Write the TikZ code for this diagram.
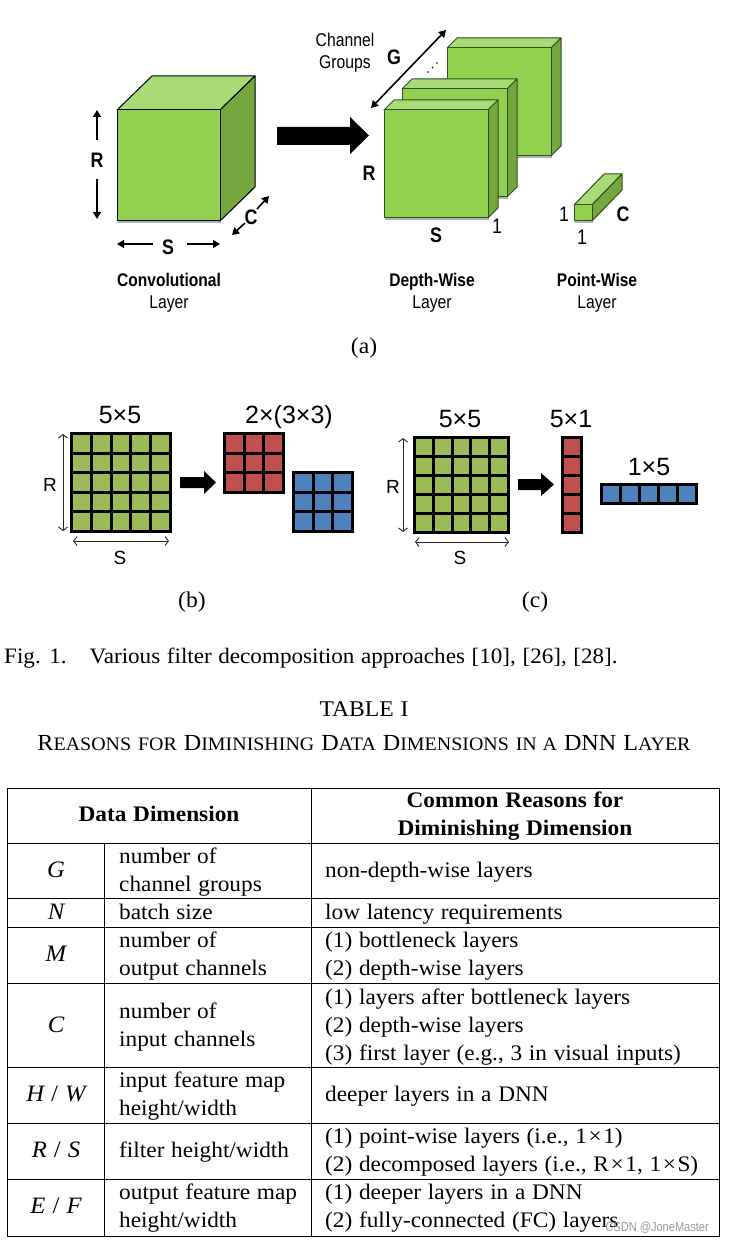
\documentclass[tikz,border=0pt]{standalone}
\usepackage{fontspec}
\setmainfont[FakeStretch=1.05,WordSpace=1.15]{Liberation Serif}
\newfontfamily\condsans[FakeStretch=0.85]{Liberation Sans}
\newfontfamily\plainsans{Liberation Sans}
\usetikzlibrary{arrows.meta}
\definecolor{cfront}{HTML}{92D050}
\definecolor{ctop}{HTML}{A8DB75}
\definecolor{cside}{HTML}{76A63F}
\definecolor{cdark}{HTML}{2F4F1F}
\definecolor{cgreen}{HTML}{9BBB59}
\definecolor{cred}{HTML}{C0504D}
\definecolor{cblue}{HTML}{4F81BD}
\newcommand\fsz[1]{\fontsize{#1}{#1}\selectfont}
\newcommand\Sm[1]{{\fontsize{19}{19}\selectfont #1}}
\newcommand\tms{\hspace{1.6pt}×\hspace{1.6pt}}
\newcommand\cuboid[7]{%
  \fill[black!30] (#1+1,#4) rectangle (#3+1,#4+1.6);
  \filldraw[fill=ctop,draw=#7,line width=1pt,line join=round] (#1,#2) -- (#1+#5,#2+#6) -- (#3+#5,#2+#6) -- (#3,#2) -- cycle;
  \filldraw[fill=cside,draw=#7,line width=1pt,line join=round] (#3,#2) -- (#3+#5,#2+#6) -- (#3+#5,#4+#6) -- (#3,#4) -- cycle;
  \filldraw[fill=cfront,draw=#7,line width=1pt,line join=round] (#1,#2) rectangle (#3,#4);
}
\newcommand\filtergrid[7]{%
  \foreach \i in {1,...,#5}{\foreach \j in {1,...,#6}{
    \filldraw[fill=#7,draw=black,line width=3.2pt]
      ({#1+1.6+(\i-1)*(#3-#1-3.2)/#5},{#2+1.6+(\j-1)*(#4-#2-3.2)/#6}) rectangle
      ({#1+1.6+\i*(#3-#1-3.2)/#5},{#2+1.6+\j*(#4-#2-3.2)/#6});
  }}
}
\newcommand\blockarrow[7]{%
  \fill[black] (#1,#4) -- (#2,#4) -- (#2,#6) -- (#3,{(#6+#7)/2}) -- (#2,#7) -- (#2,#5) -- (#1,#5) -- cycle;
}
\tikzset{
  x=1pt,y=-1pt,
  heavy/.style={line width=1.6pt,-{Triangle[length=7pt,width=8pt]}},
  heavytwo/.style={line width=1.6pt,{Triangle[length=7pt,width=8pt]}-{Triangle[length=7pt,width=8pt]}},
  dimline/.style={line width=.9pt,black!85,{Straight Barb[length=3.5pt,width=9pt]}-{Straight Barb[length=3.5pt,width=9pt]}},
  cb/.style={inner sep=0pt,anchor=base,yshift=-6.5pt,font=\condsans\bfseries\fsz{18.3}},
  cbig/.style={inner sep=0pt,anchor=base,yshift=-7.5pt,font=\condsans\bfseries\fsz{21}},
  cn/.style={inner sep=0pt,anchor=base,yshift=-6.5pt,font=\condsans\fsz{18.5}},
  cone/.style={inner sep=0pt,anchor=base,yshift=-7pt,font=\condsans\fsz{21}},
  dimlabel/.style={inner sep=0pt,anchor=base,yshift=-7pt,font=\plainsans\fsz{19}},
  sizelabel/.style={inner sep=0pt,anchor=base,yshift=-9pt,font=\plainsans\fsz{25}},
  serif/.style={inner sep=0pt,anchor=base,yshift=-7pt,font=\fsz{22.5}},
  cellw/.style={inner sep=0pt,anchor=base west,yshift=-7pt,font=\fsz{22.2}},
  cellm/.style={inner sep=0pt,anchor=base,yshift=-7pt,font=\itshape\fsz{23.5}},
  cellh/.style={inner sep=0pt,anchor=base,yshift=-7pt,font=\bfseries\fsz{22.2}},
  rule/.style={line width=1pt,draw=black},
}
\begin{document}
\begin{tikzpicture}
\useasboundingbox (0,0) rectangle (728,1241);
\fill[white] (0,0) rectangle (728,1241);

% --- (a) ---
\cuboid{117}{110}{220}{221}{35}{-34}{black}
\draw[heavy] (97,140) -- (97,110);
\draw[heavy] (97,179) -- (97,219);
\node[cbig] (ra) at (97,160) {R};
\draw[heavy] (153,244) -- (117,244);
\draw[heavy] (187,244) -- (220,244);
\node[cbig] (sa) at (168,247) {S};
\node[cbig] (ca) at (251,217) {C};
\draw[heavy] (245,223) -- (232,235);
\draw[heavy] (257,209) -- (269,196);
\node[cb] (conv) at (169,280) {Convolutional};
\node[cn] (convl) at (169,302) {Layer};

\blockarrow{277}{350}{369}{127}{145}{117}{154}

\cuboid{447}{48}{551}{156}{10}{-10}{cdark}
\cuboid{402}{89}{507}{197}{10}{-10}{cdark}
\cuboid{384}{110}{488}{218}{10}{-10}{cdark}
\fill (428,72) circle (.9) (432.5,67.5) circle (.9) (437,63) circle (.9);
\draw[heavytwo] (371,108) -- (446,30);
\node[cbig] (g) at (394,57) {G};
\node[cn] (chan) at (345,40) {Channel};
\node[cn] (grp) at (345,62) {Groups};
\node[cbig] (rd) at (369,173) {R};
\node[cbig] (sd) at (436,235) {S};
\node[cone] (one1) at (497,227) {1};
\node[cb] (dw) at (432,280) {Depth-Wise};
\node[cn] (dwl) at (432,302) {Layer};

\cuboid{574}{205}{592}{221}{30}{-31}{cdark}
\node[cbig] (cp) at (623,214) {C};
\node[cone] (one2) at (564,215) {1};
\node[cone] (one3) at (582,237) {1};
\node[cb] (pw) at (597,280) {Point-Wise};
\node[cn] (pwl) at (597,302) {Layer};

\node[serif] (capa) at (364,346) {(a)};

% --- (b) ---
\filtergrid{70}{432}{172}{533}{5}{5}{cgreen}
\filtergrid{223}{432}{285}{494}{3}{3}{cred}
\filtergrid{292}{471}{354}{533}{3}{3}{cblue}
\draw[dimline] (63,434) -- (63,531);
\draw[dimline] (73,541) -- (169,541);
\node[dimlabel] (rb) at (50,484) {R};
\node[dimlabel] (sb) at (120,557) {S};
\node[sizelabel] (b55) at (120,414.5) {5×5};
\node[sizelabel] (b233) at (289,414.5) {2×(3×3)};
\blockarrow{180}{204}{216}{477}{488}{471}{494}
\node[serif] (capb) at (192,600) {(b)};

% --- (c) ---
\filtergrid{413}{436}{510}{534}{5}{5}{cgreen}
\filtergrid{561}{436}{583}{534}{1}{5}{cred}
\filtergrid{600}{483}{698}{505}{5}{1}{cblue}
\draw[dimline] (403,438) -- (403,532);
\draw[dimline] (415,542) -- (509,542);
\node[dimlabel] (rc) at (393,486) {R};
\node[dimlabel] (sc) at (460,557) {S};
\node[sizelabel] (c55) at (460,418.5) {5×5};
\node[sizelabel] (c51) at (571,418.5) {5×1};
\node[sizelabel] (c15) at (649,466.5) {1×5};
\blockarrow{518}{541}{554}{479}{490}{473}{496}
\node[serif] (capc) at (535,600) {(c)};

% --- captions ---
\node[cellw,font=\fsz{22}] (figcap) at (4,656) {Fig. 1.\hspace{23pt}Various filter decomposition approaches [10], [26], [28].};
\node[serif] (tabno) at (364,709) {TABLE I};
\node[serif,font=\fsz{23}] (tabtitle) at (364,743) {R\Sm{EASONS} \Sm{FOR} D\Sm{IMINISHING} D\Sm{ATA} D\Sm{IMENSIONS} \Sm{IN A} DNN L\Sm{AYER}};

% --- table rules ---
\draw[rule] (7,788) rectangle (719,1236);
\foreach \yy in {843,898,927,983,1067,1123,1179}{\draw[rule] (7,\yy) -- (719,\yy);}
\draw[rule] (104,843) -- (104,1236);
\draw[rule] (311,788) -- (311,1236);

% --- table text ---
\node[cellh] (h1) at (159,814) {Data Dimension};
\node[cellh] (h2) at (515,800) {Common Reasons for};
\node[cellh] (h3) at (515,828) {Diminishing Dimension};

\node[cellm] (mg) at (56,870) {G};
\node[cellw] (a1) at (119,856) {number of};
\node[cellw] (a2) at (119,884) {channel groups};
\node[cellw] (r1) at (325,870) {non-depth-wise layers};

\node[cellm] (mn) at (56,912) {N};
\node[cellw] (a3) at (119,912) {batch size};
\node[cellw] (r2) at (325,912) {low latency requirements};

\node[cellm] (mm) at (56,954) {M};
\node[cellw] (a4) at (119,940) {number of};
\node[cellw] (a5) at (119,968) {output channels};
\node[cellw] (r3) at (325,940) {(1) bottleneck layers};
\node[cellw] (r4) at (325,968) {(2) depth-wise layers};

\node[cellm] (mc) at (56,1025) {C};
\node[cellw] (a6) at (119,1011) {number of};
\node[cellw] (a7) at (119,1039) {input channels};
\node[cellw] (r5) at (325,997) {(1) layers after bottleneck layers};
\node[cellw] (r6) at (325,1025) {(2) depth-wise layers};
\node[cellw] (r7) at (325,1053) {(3) first layer (e.g., 3 in visual inputs)};

\node[cellm] (mh) at (56,1094) {H {\upshape/} W};
\node[cellw] (a8) at (119,1080) {input feature map};
\node[cellw] (a9) at (119,1108) {height/width};
\node[cellw] (r8) at (325,1094) {deeper layers in a DNN};

\node[cellm] (mr) at (56,1150) {R {\upshape/} S};
\node[cellw] (a10) at (119,1150) {filter height/width};
\node[cellw] (r9) at (325,1136) {(1) point-wise layers (i.e., 1\tms1)};
\node[cellw] (r10) at (325,1164) {(2) decomposed layers (i.e., R\tms1, 1\tms S)};

\node[cellm] (me) at (56,1206) {E {\upshape/} F};
\node[cellw] (a11) at (119,1192) {output feature map};
\node[cellw] (a12) at (119,1220) {height/width};
\node[cellw] (r11) at (325,1192) {(1) deeper layers in a DNN};
\node[cellw] (r12) at (325,1220) {(2) fully-connected (FC) layers};

\node[inner sep=0pt,anchor=east,font=\condsans\fsz{13},text=black!40] (wm) at (709,1228) {CSDN @JoneMaster};
\end{tikzpicture}
\end{document}
